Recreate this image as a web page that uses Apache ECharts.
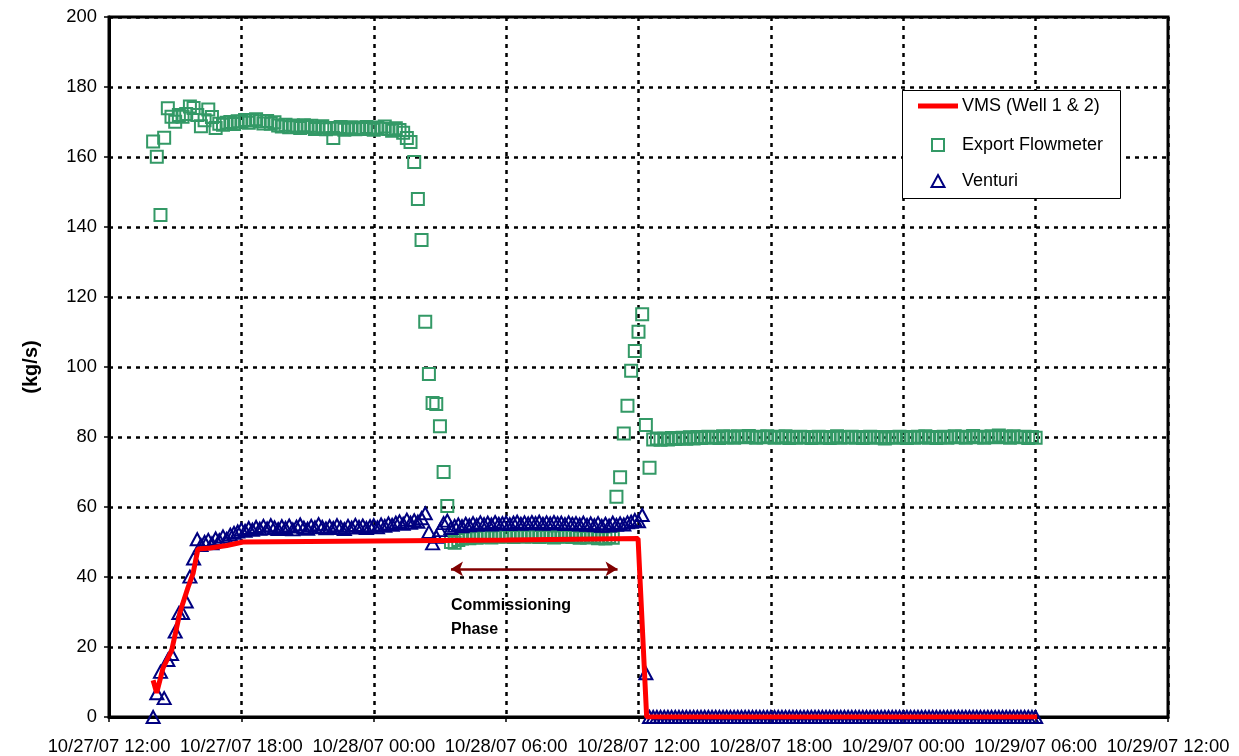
<!DOCTYPE html>
<html>
<head>
<meta charset="utf-8">
<script src="https://cdn.jsdelivr.net/npm/echarts@6/dist/echarts.min.js"></script>
<style>
html,body{margin:0;padding:0;background:#fff;}
#chart{width:1239px;height:756px;}
</style>
</head>
<body>
<div id="chart"></div>
<script>
// ---- DATA ----
// x tick labels (every 6 hours starting 10/27/07 12:00)
const xTickLabels = ["10/27/07 12:00","10/27/07 18:00","10/28/07 00:00","10/28/07 06:00","10/28/07 12:00","10/28/07 18:00","10/29/07 00:00","10/29/07 06:00","10/29/07 12:00"];
const yTicks = [0,20,40,60,80,100,120,140,160,180,200];
const seriesNames = ['VMS (Well 1 & 2)', 'Export Flowmeter', 'Venturi'];

// Sample times, minutes after 10/27/07 12:00
const sampleMinutes = [
 120,130,140,150,160,170,180,190,200,210,220,230,
 240,250,260,270,280,290,300,310,320,330,340,350,
 360,370,380,390,400,410,420,430,440,450,460,470,
 480,490,500,510,520,530,540,550,560,570,580,590,
 600,610,620,630,640,650,660,670,680,690,700,710,
 720,730,740,750,760,770,780,790,800,810,820,830,
 840,850,860,870,880,890,900,910,920,930,940,950,
 960,970,980,990,1000,1010,1020,1030,1040,1050,1060,1070,
 1080,1090,1100,1110,1120,1130,1140,1150,1160,1170,1180,1190,
 1200,1210,1220,1230,1240,1250,1260,1270,1280,1290,1300,1310,
 1320,1330,1340,1350,1360,1370,1380,1390,1400,1410,1420,1430,
 1440,1450,1460,1470,1480,1490,1500,1510,1520,1530,1540,1550,
 1560,1570,1580,1590,1600,1610,1620,1630,1640,1650,1660,1670,
 1680,1690,1700,1710,1720,1730,1740,1750,1760,1770,1780,1790,
 1800,1810,1820,1830,1840,1850,1860,1870,1880,1890,1900,1910,
 1920,1930,1940,1950,1960,1970,1980,1990,2000,2010,2020,2030,
 2040,2050,2060,2070,2080,2090,2100,2110,2120,2130,2140,2150,
 2160,2170,2180,2190,2200,2210,2220,2230,2240,2250,2260,2270,
 2280,2290,2300,2310,2320,2330,2340,2350,2360,2370,2380,2390,
 2400,2410,2420,2430,2440,2450,2460,2470,2480,2490,2500,2510,
 2520
];

// Export Flowmeter (kg/s)
const exportFlow = [
 164.4,160.1,143.4,165.5,173.9,171.5,170.1,172.0,171.5,172.3,174.4,174.0,
 172.0,168.8,170.5,173.6,171.4,168.3,169.5,169.2,169.8,170.0,169.4,170.2,
 170.1,170.6,169.8,170.4,170.8,170.2,169.6,170.3,169.5,169.9,169.0,168.7,
 169.2,168.5,169.0,168.8,168.3,169.1,168.6,168.9,168.0,168.4,168.8,167.9,
 168.3,165.4,168.1,168.6,167.8,168.2,168.5,167.9,168.3,168.0,168.6,168.2,
 167.8,168.4,168.1,168.7,168.0,167.5,168.2,167.7,166.9,165.4,164.3,158.6,
 148.0,136.3,112.9,98.0,89.7,89.4,83.1,70.0,60.3,50.0,49.8,50.6,
 51.0,51.3,51.1,51.5,51.2,51.6,51.4,51.8,51.3,51.7,51.5,51.9,
 51.6,51.8,51.4,52.0,51.7,51.5,51.9,51.6,51.8,51.4,51.7,51.5,
 51.8,51.3,51.6,51.9,51.5,51.7,51.4,51.6,51.2,51.5,51.3,51.6,
 51.4,51.1,51.3,51.0,51.4,51.2,62.9,68.5,81.0,88.9,98.9,104.6,
 110.1,115.1,83.4,71.2,79.3,79.6,79.2,79.5,79.3,79.7,79.4,79.6,
 79.8,79.5,79.9,79.6,80.0,79.7,79.9,80.1,79.8,80.0,79.7,80.2,
 79.9,80.1,79.8,80.2,80.0,79.9,80.3,80.0,79.8,80.1,79.9,80.2,
 80.0,79.8,80.1,79.9,80.2,79.7,80.0,79.8,80.1,79.9,80.0,79.7,
 79.9,80.1,79.8,80.0,79.7,79.9,80.2,79.8,80.0,79.9,80.1,79.8,
 80.0,79.7,79.9,80.1,79.8,80.0,79.9,79.6,79.9,80.0,79.8,80.1,
 79.9,79.7,80.0,79.8,80.1,79.9,80.2,79.8,80.0,79.7,79.9,80.1,
 79.8,80.0,80.2,79.9,80.1,79.8,80.0,80.3,79.9,80.1,79.8,80.0,
 80.2,79.9,80.4,80.0,80.1,79.8,80.2,80.0,79.9,80.1,79.7,80.0,
 79.8
];

// Venturi (kg/s)
const venturi = [
 0,6.8,12.9,5.4,16.3,18.0,24.4,29.7,29.7,33.0,40.1,45.3,
 50.8,49.1,50.0,50.6,49.6,51.0,50.5,51.6,50.9,52.1,52.6,53.0,
 53.6,53.2,54.0,53.5,54.3,53.8,54.6,53.9,54.8,54.2,53.7,54.5,
 54.0,54.7,53.6,54.4,55.0,54.1,53.8,54.6,54.2,55.1,54.3,53.9,
 54.5,54.0,54.8,54.2,53.7,54.6,54.1,54.9,54.3,54.7,54.0,54.5,
 54.8,54.2,55.0,54.6,55.3,54.9,55.5,55.9,55.2,56.4,55.5,56.2,
 55.8,56.8,58.2,52.9,49.6,51.5,53.4,55.4,56.1,54.0,54.6,55.0,
 54.5,55.2,54.8,55.4,54.9,55.6,55.1,55.5,55.0,55.7,55.2,55.4,
 55.6,55.1,55.5,55.8,55.2,55.6,55.3,55.7,55.4,55.8,55.2,55.6,
 55.3,55.7,55.4,55.5,55.1,55.6,55.2,55.4,55.0,55.5,54.9,55.3,
 54.8,55.4,54.6,55.2,54.7,55.5,54.9,55.3,55.0,55.6,55.8,56.3,
 55.9,57.7,12.5,0,0,0,0,0,0,0,0,0,
 0,0,0,0,0,0,0,0,0,0,0,0,
 0,0,0,0,0,0,0,0,0,0,0,0,
 0,0,0,0,0,0,0,0,0,0,0,0,
 0,0,0,0,0,0,0,0,0,0,0,0,
 0,0,0,0,0,0,0,0,0,0,0,0,
 0,0,0,0,0,0,0,0,0,0,0,0,
 0,0,0,0,0,0,0,0,0,0,0,0,
 0,0,0,0,0,0,0,0,0,0,0,0,
 0
];

// VMS (Well 1 & 2): hours after 10/27/07 12:00 and values
const vmsHours  = [2.0, 2.16, 2.45, 2.84, 3.22, 3.58, 3.81, 4.03, 4.58, 5.34, 6.07, 12.0, 18.0, 23.98, 24.37, 42.07];
const vmsValues = [10.5, 6.9, 14.0, 19.0, 30.0, 37.0, 41.0, 48.0, 48.3, 49.0, 50.0, 50.3, 50.6, 51.0, 0, 0];

// Annotation: commissioning phase arrow (hours) and level (kg/s)
const arrowSpan = [15.5, 23.05];
const arrowLevel = 42.3;

// ---- CHART ----
const FONT = "'Liberation Sans', Arial, sans-serif";
const RED = '#ff0000', GREEN = '#339966', NAVY = '#000080';
const toPairs = (xs, ys) => xs.map((x, i) => [x, ys[i]]);
const minutesToHours = sampleMinutes.map(m => m / 60);

// Legend box layout (drawn as graphic so icons keep Excel's look)
const LG = {x: 902, y: 90, w: 218, h: 108, iconX: 918, iconW: 40, textX: 962, rows: [106, 145, 181]};
const legendTextStyle = {fill: '#000', fontSize: 18, fontFamily: FONT, textVerticalAlign: 'middle', verticalAlign: 'middle'};
const cx = LG.iconX + LG.iconW / 2;

const chart = echarts.init(document.getElementById('chart'), null, {renderer: 'canvas'});
chart.setOption({
  animation: false,
  backgroundColor: '#fff',
  grid: {left: 109, right: 71, top: 17, bottom: 39, show: true, borderColor: '#000', borderWidth: 3, backgroundColor: 'transparent'},
  xAxis: {
    type: 'value', min: 0, max: 48, interval: 6,
    axisLine: {show: true, lineStyle: {color: '#000', width: 3}},
    axisTick: {show: true, length: 5, lineStyle: {color: '#000', width: 1.5}},
    axisLabel: {color: '#000', fontSize: 18.4, fontFamily: FONT, margin: 21, showMinLabel: true, showMaxLabel: true,
      formatter: v => xTickLabels[Math.round(v / 6)] || ''},
    splitLine: {show: true, lineStyle: {color: '#000', width: 2.5, type: [4, 5]}}
  },
  yAxis: {
    type: 'value', min: yTicks[0], max: yTicks[yTicks.length - 1], interval: 20,
    name: '(kg/s)', nameLocation: 'middle', nameRotate: 90, nameGap: 68,
    nameTextStyle: {color: '#000', fontSize: 20, fontWeight: 'bold', fontFamily: FONT},
    axisLine: {show: true, lineStyle: {color: '#000', width: 3}},
    axisTick: {show: true, length: 5, lineStyle: {color: '#000', width: 1.5}},
    axisLabel: {color: '#000', fontSize: 18.4, fontFamily: FONT, margin: 12},
    splitLine: {show: true, lineStyle: {color: '#000', width: 2.5, type: [4, 5]}}
  },
  series: [
    {
      name: seriesNames[0], type: 'line', symbol: 'none', showSymbol: false,
      data: toPairs(vmsHours, vmsValues),
      lineStyle: {color: RED, width: 5},
      itemStyle: {color: RED},
      markLine: {
        silent: true, symbol: ['arrow', 'arrow'], symbolSize: [11, 12],
        label: {show: false},
        lineStyle: {color: '#800000', width: 2.5, type: 'solid'},
        data: [[{coord: [arrowSpan[0], arrowLevel]}, {coord: [arrowSpan[1], arrowLevel]}]]
      }
    },
    {
      name: seriesNames[1], type: 'scatter', symbol: 'rect', symbolSize: 12,
      data: toPairs(minutesToHours, exportFlow),
      itemStyle: {color: 'rgba(255,255,255,0)', borderColor: GREEN, borderWidth: 2, opacity: 1}
    },
    {
      name: seriesNames[2], type: 'scatter', symbol: 'triangle', symbolSize: [13, 12],
      data: toPairs(minutesToHours, venturi),
      itemStyle: {color: 'rgba(255,255,255,0)', borderColor: NAVY, borderWidth: 2, opacity: 1}
    }
  ],
  graphic: [
    {type: 'text', left: 451, top: 594, z: 100,
     style: {text: 'Commissioning\nPhase', fill: '#000', fontSize: 16, fontWeight: 'bold', fontFamily: FONT, lineHeight: 24}},
    // legend
    {type: 'rect', z: 100, shape: {x: LG.x + 0.5, y: LG.y + 0.5, width: LG.w, height: LG.h}, style: {fill: '#fff', stroke: '#000', lineWidth: 1}},
    {type: 'line', z: 101, shape: {x1: LG.iconX, y1: LG.rows[0], x2: LG.iconX + LG.iconW, y2: LG.rows[0]}, style: {stroke: RED, lineWidth: 5}},
    {type: 'rect', z: 101, shape: {x: cx - 6, y: LG.rows[1] - 6, width: 12, height: 12}, style: {fill: 'none', stroke: GREEN, lineWidth: 2}},
    {type: 'polygon', z: 101, shape: {points: [[cx, LG.rows[2] - 6], [cx + 6.5, LG.rows[2] + 6], [cx - 6.5, LG.rows[2] + 6]]}, style: {fill: 'none', stroke: NAVY, lineWidth: 2}},
    {type: 'text', z: 101, x: LG.textX, y: LG.rows[0], style: Object.assign({text: seriesNames[0]}, legendTextStyle)},
    {type: 'text', z: 101, x: LG.textX, y: LG.rows[1], style: Object.assign({text: seriesNames[1]}, legendTextStyle)},
    {type: 'text', z: 101, x: LG.textX, y: LG.rows[2], style: Object.assign({text: seriesNames[2]}, legendTextStyle)}
  ]
});
</script>
</body>
</html>
